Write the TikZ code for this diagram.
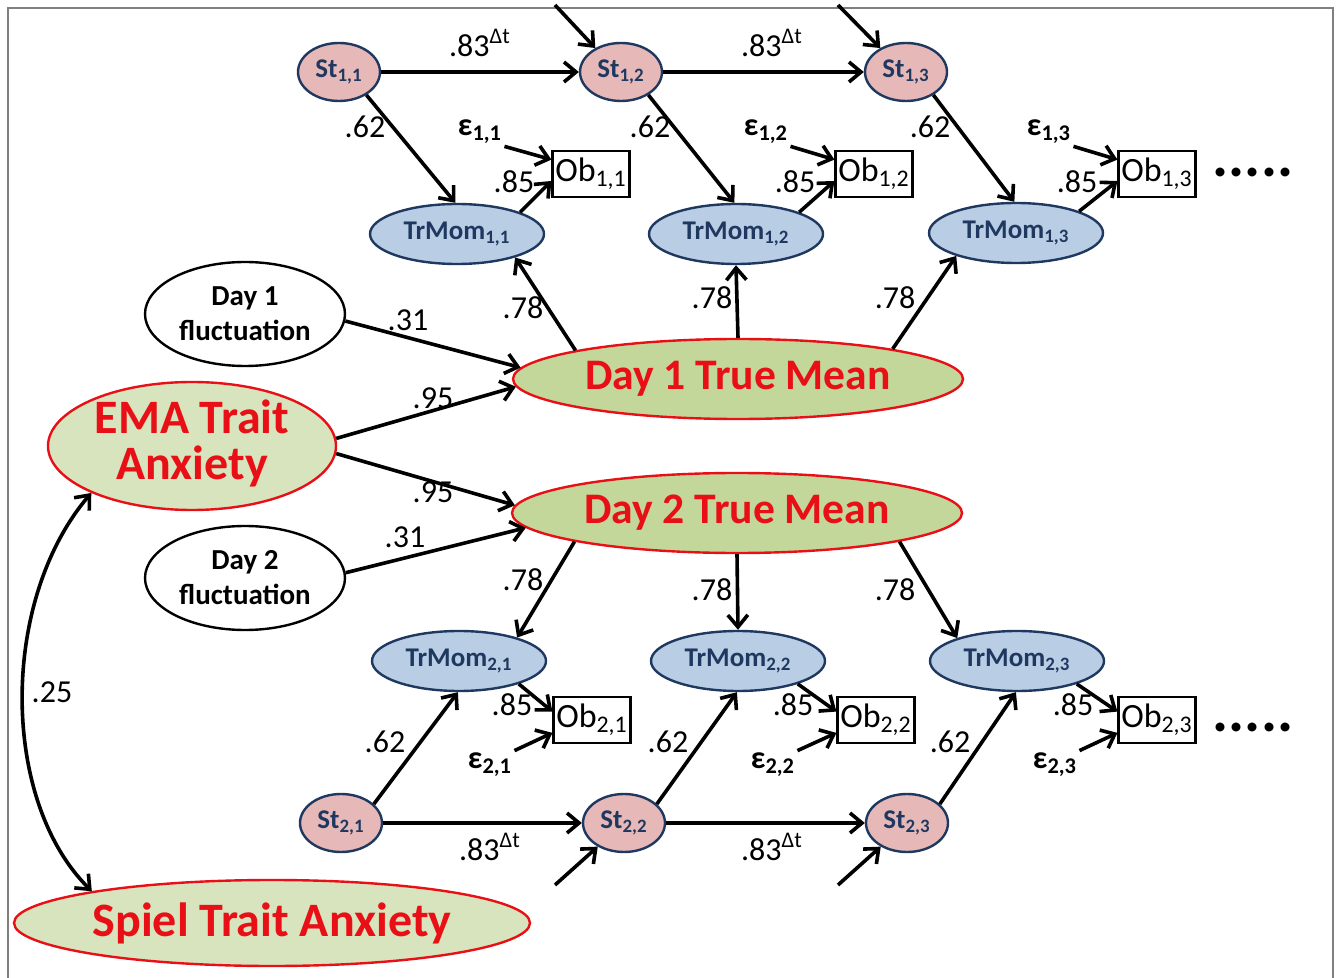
\documentclass[tikz,border=0pt]{standalone}
\usepackage{fontspec}
\setmainfont{Carlito}
\usetikzlibrary{shapes.geometric,arrows.meta}
\definecolor{navyc}{RGB}{31,56,96}
\definecolor{stpink}{RGB}{230,185,184}
\definecolor{tmblue}{RGB}{185,205,229}
\definecolor{greend}{RGB}{196,215,155}
\definecolor{greenl}{RGB}{215,228,189}
\definecolor{redc}{RGB}{232,16,22}
\definecolor{framec}{RGB}{128,128,128}
\tikzset{
  tipb/.tip={Straight Barb[length=6pt,width=10pt]},
  ar/.style={line width=1.8pt,-tipb},
  stnode/.style={ellipse,draw=navyc,line width=1.2pt,fill=stpink,minimum width=41pt,minimum height=29pt,inner sep=0pt,text=navyc,font=\fontsize{13.5}{15}\selectfont\bfseries},
  tmnode/.style={ellipse,draw=navyc,line width=1.2pt,fill=tmblue,minimum width=87pt,minimum height=30pt,inner sep=0pt,text=navyc,font=\fontsize{13.5}{15}\selectfont\bfseries},
  obnode/.style={rectangle,draw=black,line width=1.1pt,fill=white,minimum width=38.5pt,minimum height=23pt,inner sep=0pt,font=\fontsize{17}{19}\selectfont},
  lab/.style={inner sep=1pt,font=\fontsize{16}{18}\selectfont},
  epsl/.style={inner sep=1pt,font=\fontsize{16}{18}\selectfont\bfseries},
  meannode/.style={ellipse,draw=redc,line width=1.2pt,fill=greend,text=redc,inner sep=0pt,minimum width=225pt,minimum height=40pt,font=\fontsize{21.8}{24}\selectfont\bfseries},
  fluct/.style={ellipse,draw=black,line width=1.2pt,fill=white,inner sep=0pt,minimum width=100pt,minimum height=52pt,align=center,font=\fontsize{14.5}{17.5}\selectfont\bfseries},
  emtext/.style={text=redc,inner sep=0pt,anchor=base,font=\fontsize{24}{24}\selectfont\bfseries},
  dotsn/.style={inner sep=0pt,anchor=base,font=\fontsize{30}{30}\selectfont\bfseries}
}
\begin{document}
\begin{tikzpicture}[x=0.5pt,y=-0.5pt]
\useasboundingbox (0,0) rectangle (1339,978);
\draw[framec,line width=1pt] (8,978) -- (8,8) -- (1333,8) -- (1333,978);

% top row
\node[stnode] (s11) at (339,72) {St\textsubscript{1,1}};
\node[stnode] (s12) at (621,72) {St\textsubscript{1,2}};
\node[stnode] (s13) at (906,72) {St\textsubscript{1,3}};
\node[tmnode] (tm11) at (457,234) {TrMom\textsubscript{1,1}};
\node[tmnode] (tm12) at (736,234) {TrMom\textsubscript{1,2}};
\node[tmnode] (tm13) at (1016,233) {TrMom\textsubscript{1,3}};
\node[obnode] (ob11) at (591,174) {Ob\textsubscript{1,1}};
\node[obnode] (ob12) at (874,174) {Ob\textsubscript{1,2}};
\node[obnode] (ob13) at (1157,174) {Ob\textsubscript{1,3}};
\node[epsl] (e11) at (480,132) {ε\textsubscript{1,1}};
\node[epsl] (e12) at (766,132) {ε\textsubscript{1,2}};
\node[epsl] (e13) at (1049,132) {ε\textsubscript{1,3}};
\node[dotsn] (dt1) at (1253,177) {.....};
\coordinate (in12) at (555,5);
\coordinate (in13) at (838,5);

% bottom row
\node[stnode] (s21) at (341,823) {St\textsubscript{2,1}};
\node[stnode] (s22) at (624,823) {St\textsubscript{2,2}};
\node[stnode] (s23) at (907,823) {St\textsubscript{2,3}};
\node[tmnode] (tm21) at (459,661) {TrMom\textsubscript{2,1}};
\node[tmnode] (tm22) at (738,661) {TrMom\textsubscript{2,2}};
\node[tmnode] (tm23) at (1017,661) {TrMom\textsubscript{2,3}};
\node[obnode] (ob21) at (592,720) {Ob\textsubscript{2,1}};
\node[obnode] (ob22) at (876,720) {Ob\textsubscript{2,2}};
\node[obnode] (ob23) at (1157,720) {Ob\textsubscript{2,3}};
\node[epsl] (e21) at (490,765) {ε\textsubscript{2,1}};
\node[epsl] (e22) at (773,765) {ε\textsubscript{2,2}};
\node[epsl] (e23) at (1055,765) {ε\textsubscript{2,3}};
\node[dotsn] (dt2) at (1253,731) {.....};
\coordinate (in22) at (555,885);
\coordinate (in23) at (838,885);

% means and traits
\node[meannode] (d1) at (738,379) {Day 1 True Mean};
\node[meannode] (d2) at (737,513) {Day 2 True Mean};
\node[fluct] (f1) at (245,314) {Day 1\\fluctuation};
\node[fluct] (f2) at (245,578) {Day 2\\fluctuation};
\node[ellipse,draw=redc,line width=1.2pt,fill=greenl,inner sep=0pt,minimum width=144pt,minimum height=64pt] (ema) at (192,446) {};
\node[emtext] (emat1) at (192,434) {EMA Trait};
\node[emtext] (emat2) at (192,480) {Anxiety};
\node[meannode,fill=greenl,minimum width=258pt,minimum height=43pt,font=\fontsize{24}{26}\selectfont\bfseries] (spiel) at (272,923) {Spiel Trait Anxiety};

% edges
\draw[ar] (s11) -- (s12);
\draw[ar] (s12) -- (s13);
\draw[ar] (in12) -- (s12.137);
\draw[ar] (in13) -- (s13.137);
\foreach \k in {1,2,3}{
  \draw[ar] (s1\k.-40) -- (tm1\k.93);
  \draw[ar] (tm1\k.19) -- (ob1\k.190);
  \draw[ar] (e1\k.south east) -- (ob1\k.160);
  \draw[ar] (s2\k.30) -- (tm2\k.268);
  \draw[ar] (tm2\k.-21) -- (ob2\k.168);
  \draw[ar] (e2\k.north east) -- (ob2\k.198);
}
\draw[ar] (s21) -- (s22);
\draw[ar] (s22) -- (s23);
\draw[ar] (in22) -- (s22.222);
\draw[ar] (in23) -- (s23.222);

\draw[ar] (d1.170) -- (tm11.-22);
\draw[ar] (d1.90) -- (tm12.270);
\draw[ar] (d1.11) -- (tm13.201);
\draw[ar] (d2.190) -- (tm21.22);
\draw[ar] (d2.270) -- (tm22.90);
\draw[ar] (d2.350) -- (tm23.159);

\draw[ar] (f1.-4) -- (d1.177);
\draw[ar] (ema.3) -- (d1.182);
\draw[ar] (ema.-3) -- (d2.178);
\draw[ar] (f2.3) -- (d2.184);

\draw[line width=1.8pt,tipb-tipb] (ema.205) .. controls (0,600) and (0,800) .. (spiel.170);

% labels
\node[lab] (l83a) at (480,43) {.83\textsuperscript{Δt}};
\node[lab] (l83b) at (772,43) {.83\textsuperscript{Δt}};
\node[lab] (l83c) at (490,847) {.83\textsuperscript{Δt}};
\node[lab] (l83d) at (772,847) {.83\textsuperscript{Δt}};
\node[lab] (l62a) at (365,127) {.62};
\node[lab] (l62b) at (650,127) {.62};
\node[lab] (l62c) at (930,127) {.62};
\node[lab] (l62d) at (385,742) {.62};
\node[lab] (l62e) at (668,742) {.62};
\node[lab] (l62f) at (950,742) {.62};
\node[lab] (l85a) at (514,182) {.85};
\node[lab] (l85b) at (795,182) {.85};
\node[lab] (l85c) at (1077,182) {.85};
\node[lab] (l85d) at (512,705) {.85};
\node[lab] (l85e) at (793,705) {.85};
\node[lab] (l85f) at (1073,705) {.85};
\node[lab] (l78a) at (523,308) {.78};
\node[lab] (l78b) at (712,298) {.78};
\node[lab] (l78c) at (895,298) {.78};
\node[lab] (l78d) at (523,580) {.78};
\node[lab] (l78e) at (712,590) {.78};
\node[lab] (l78f) at (895,590) {.78};
\node[lab] (l31a) at (408,320) {.31};
\node[lab] (l31b) at (405,537) {.31};
\node[lab] (l95a) at (433,398) {.95};
\node[lab] (l95b) at (433,492) {.95};
\node[lab] (l25) at (52,692) {.25};
\end{tikzpicture}
\end{document}
